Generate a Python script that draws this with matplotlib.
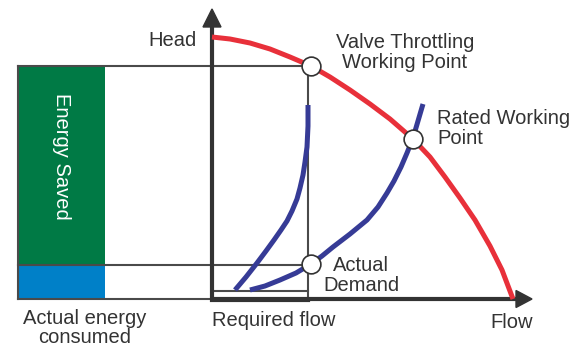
import matplotlib
matplotlib.use("Agg")
import matplotlib.pyplot as plt
from matplotlib.patches import Rectangle, FancyArrow

plt.rcParams['font.family'] = ['Liberation Sans', 'DejaVu Sans']

# Pump curve (head vs. flow)
pump_flow = [0, 18, 38, 58, 78, 99, 118, 138, 158, 178, 201, 218, 233, 248, 263, 278, 290, 301]
pump_head = [262, 260, 256, 250, 242, 233, 222, 209, 195, 180, 160, 142, 122, 101, 79, 53, 29, 0]

# System curve with the valve throttled
throttled_flow = [23, 34, 45, 54, 62, 69, 75, 80, 85, 88, 91, 93, 95, 96, 96]
throttled_head = [9, 22, 36, 48, 59, 69, 78, 88, 100, 111, 124, 137, 152, 173, 194]

# Original system curve
system_flow = [38, 53, 68, 84, 99, 110, 121, 138, 155, 166, 175, 182, 189, 195, 201, 206, 211]
system_head = [9, 13, 19, 26, 35, 43, 52, 65, 79, 92, 106, 118, 132, 146, 161, 178, 195]

# Operating points
point_names = ["Valve Throttling\nWorking Point", "Rated Working\nPoint", "Actual\nDemand"]
point_flow = [99, 201, 99]
point_head = [233, 160, 35]

required_flow = 96
throttled_head_level = 233
demand_head_level = 34

AXIS = "#333333"
LINE = "#4a4a4a"
RED = "#e8303a"
NAVY = "#363b96"
GREEN = "#007a45"
BLUE = "#0080c8"

fig = plt.figure(figsize=(5.73, 3.49), dpi=100)
ax = fig.add_axes([0, 0, 1, 1])
ax.set_xlim(-212, 361)
ax.set_ylim(-50, 299)
ax.axis("off")

# Energy bar on the left
bar_left, bar_right = -194, -107
ax.add_patch(Rectangle((bar_left, demand_head_level), bar_right - bar_left,
                       throttled_head_level - demand_head_level, facecolor=GREEN,
                       edgecolor="none", zorder=1))
ax.add_patch(Rectangle((bar_left, 0), bar_right - bar_left, demand_head_level,
                       facecolor=BLUE, edgecolor="none", zorder=1))

fs = 14.5
ax.text((bar_left + bar_right) / 2, 143, "Energy Saved", rotation=-90,
        color="white", fontsize=fs, ha="center", va="center", zorder=3)

lw_thin = 1.5
ax.plot([bar_left, bar_left], [0, throttled_head_level], color=LINE, lw=lw_thin, zorder=2)
ax.plot([bar_left, 0], [0, 0], color=LINE, lw=lw_thin, zorder=2)
ax.plot([bar_left, point_flow[0]], [throttled_head_level] * 2, color=LINE, lw=lw_thin, zorder=2)
ax.plot([bar_left, point_flow[2]], [demand_head_level] * 2, color=LINE, lw=lw_thin, zorder=2)
ax.plot([required_flow, required_flow], [0, throttled_head_level], color=LINE, lw=lw_thin, zorder=2)
ax.plot([0, required_flow], [8, 8], color=LINE, lw=lw_thin, zorder=2)
ax.plot([0, required_flow], [-1, -1], color=AXIS, lw=3, zorder=2)

# Axes with arrowheads
ax.plot([0, 0], [-1, 276], color=AXIS, lw=3, solid_capstyle="butt", zorder=4)
ax.add_patch(FancyArrow(0, 272, 0, 0.01, width=0, head_width=18, head_length=18,
                        length_includes_head=False, color=AXIS, zorder=4))
ax.plot([0, 307], [0, 0], color=AXIS, lw=3, solid_capstyle="butt", zorder=4)
ax.add_patch(FancyArrow(304, 0, 0.01, 0, width=0, head_width=17, head_length=16,
                        length_includes_head=False, color=AXIS, zorder=4))

# Curves
curve_style = dict(lw=3.6, solid_capstyle="butt", solid_joinstyle="round", zorder=5)
ax.plot(pump_flow, pump_head, color=RED, **curve_style)
ax.plot(throttled_flow, throttled_head, color=NAVY, **curve_style)
ax.plot(system_flow, system_head, color=NAVY, **curve_style)

ax.plot(point_flow, point_head, "o", ms=13.5, mfc="white", mec=AXIS, mew=1.2, zorder=6)

ax.text(-15, 259, "Head", fontsize=fs, color=AXIS, ha="right", va="center")
ax.text(193, 246.5, point_names[0], fontsize=fs, color=AXIS, ha="center", va="center",
        linespacing=1.05)
ax.text(225, 170.5, point_names[1], fontsize=fs, color=AXIS, ha="left", va="center",
        linespacing=1.05)
ax.text(149, 23.5, point_names[2], fontsize=fs, color=AXIS, ha="center", va="center",
        linespacing=1.05)
ax.text(300, -24, "Flow", fontsize=fs, color=AXIS, ha="center", va="center")
ax.text(61.5, -21, "Required flow", fontsize=fs, color=AXIS, ha="center", va="center")
ax.text(-127, -29, "Actual energy\nconsumed", fontsize=fs, color=AXIS, ha="center",
        va="center", linespacing=1.0)

fig.savefig("out.png", dpi=100)
